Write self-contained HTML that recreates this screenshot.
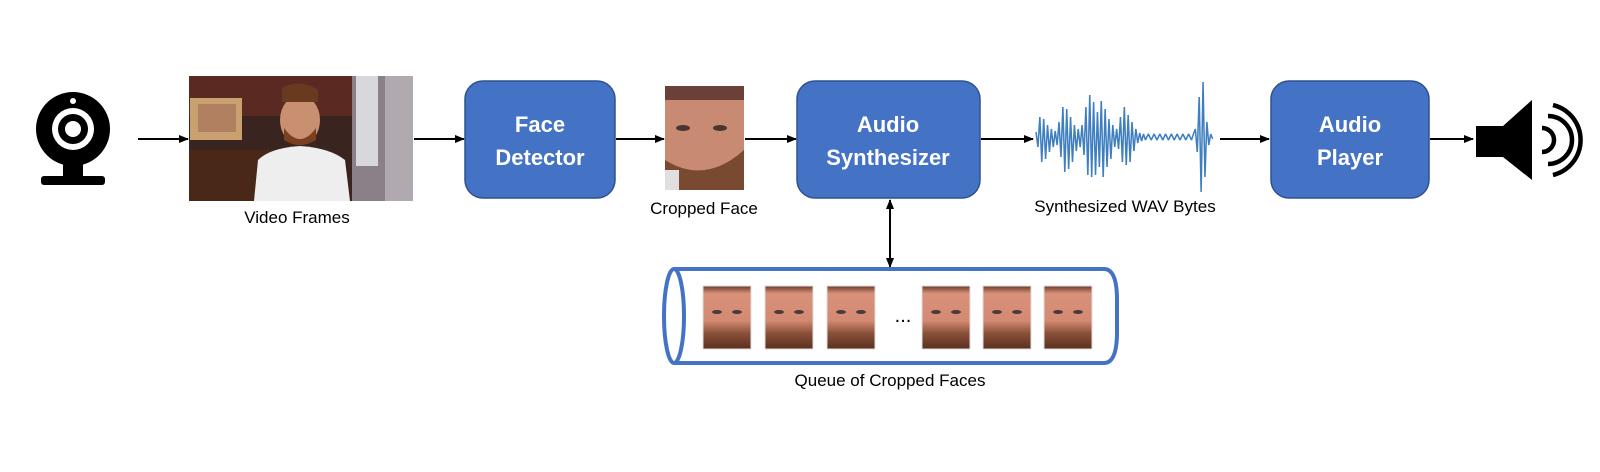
<!DOCTYPE html>
<html><head><meta charset="utf-8"><style>
html,body{margin:0;padding:0;background:#fff;}
svg{display:block;}
text{font-family:"Liberation Sans",Arial,sans-serif;}
</style></head><body>
<svg width="1600" height="472" viewBox="0 0 1600 472" xmlns="http://www.w3.org/2000/svg">
<defs>
<marker id="ah" markerWidth="10" markerHeight="10" refX="9" refY="5" orient="auto" markerUnits="userSpaceOnUse">
<path d="M0,1 L10,5 L0,9 Z" fill="#000"/></marker>
<marker id="ahs" markerWidth="10" markerHeight="10" refX="1" refY="5" orient="auto" markerUnits="userSpaceOnUse">
<path d="M10,1 L0,5 L10,9 Z" fill="#000"/></marker>
<linearGradient id="skin" x1="0" y1="0" x2="0" y2="1">
<stop offset="0" stop-color="#6b3a2a"/><stop offset="0.12" stop-color="#d9917a"/><stop offset="0.55" stop-color="#d48a72"/><stop offset="0.75" stop-color="#8a5038"/><stop offset="1" stop-color="#5a3020"/></linearGradient>
<g id="face">
<rect x="0" y="0" width="48" height="63" fill="url(#skin)"/>
<ellipse cx="14" cy="26" rx="5" ry="2" fill="#4a3a3a"/>
<ellipse cx="34" cy="26" rx="5" ry="2" fill="#4a3a3a"/>
<rect x="0" y="0" width="48" height="63" fill="none" stroke="#ddd" stroke-width="1"/>
</g>
</defs>

<!-- webcam -->
<circle cx="73" cy="129" r="37" fill="#000"/>
<circle cx="73" cy="129" r="21" fill="#fff"/>
<circle cx="73" cy="129" r="15" fill="#000"/>
<circle cx="73" cy="129" r="8" fill="#fff"/>
<circle cx="73" cy="101" r="3" fill="#fff"/>
<rect x="63" y="163" width="20" height="14" fill="#000"/>
<rect x="41" y="176" width="64" height="9" rx="3" fill="#000"/>

<line x1="138" y1="139" x2="188" y2="139" stroke="#000" stroke-width="2" marker-end="url(#ah)"/>

<!-- video frame -->
<rect x="189" y="76" width="224" height="125" fill="#3a2420"/>
<rect x="189" y="76" width="224" height="40" fill="#5a2a22"/>
<rect x="190" y="98" width="52" height="42" fill="#c9a070"/>
<rect x="198" y="104" width="38" height="28" fill="#b08060"/>
<rect x="189" y="150" width="100" height="51" fill="#4a2818"/>
<rect x="352" y="76" width="61" height="125" fill="#8a8088"/>
<rect x="356" y="76" width="22" height="90" fill="#d8d8dc"/>
<rect x="385" y="76" width="28" height="125" fill="#b0aab0"/>
<ellipse cx="300" cy="120" rx="20" ry="25" fill="#c89070"/>
<path d="M282,88 Q300,78 318,90 L318,102 L282,102 Z" fill="#6a3a20"/>
<path d="M284,128 Q300,150 316,128 L316,140 Q300,150 284,140 Z" fill="#7a4020"/>
<path d="M254,201 L258,160 Q270,148 300,146 Q330,148 345,160 L350,201 Z" fill="#eeeeee"/>
<text x="297" y="223" font-size="17" text-anchor="middle">Video Frames</text>

<line x1="414" y1="139" x2="464" y2="139" stroke="#000" stroke-width="2" marker-end="url(#ah)"/>

<!-- Face detector -->
<rect x="465" y="81" width="150" height="117" rx="18" fill="#4472C4" stroke="#2F528F" stroke-width="1.5"/>
<text x="540" y="132" font-size="22" font-weight="bold" fill="#fff" text-anchor="middle">Face</text>
<text x="540" y="165" font-size="22" font-weight="bold" fill="#fff" text-anchor="middle">Detector</text>

<line x1="616" y1="139" x2="664" y2="139" stroke="#000" stroke-width="2" marker-end="url(#ah)"/>

<!-- cropped face -->
<rect x="665" y="86" width="79" height="104" fill="#c88a72"/>
<rect x="665" y="86" width="79" height="14" fill="#6a4038"/>
<ellipse cx="683" cy="128" rx="7" ry="3" fill="#4a3535"/>
<ellipse cx="720" cy="128" rx="7" ry="3" fill="#4a3535"/>
<path d="M665,160 Q705,185 744,150 L744,190 L665,190 Z" fill="#7a4a30"/>
<rect x="665" y="170" width="14" height="20" fill="#e0dede"/>
<text x="704" y="214" font-size="17" text-anchor="middle">Cropped Face</text>

<line x1="745" y1="139" x2="796" y2="139" stroke="#000" stroke-width="2" marker-end="url(#ah)"/>

<!-- Audio synthesizer -->
<rect x="797" y="81" width="183" height="117" rx="18" fill="#4472C4" stroke="#2F528F" stroke-width="1.5"/>
<text x="888" y="132" font-size="22" font-weight="bold" fill="#fff" text-anchor="middle">Audio</text>
<text x="888" y="165" font-size="22" font-weight="bold" fill="#fff" text-anchor="middle">Synthesizer</text>

<line x1="981" y1="139" x2="1033" y2="139" stroke="#000" stroke-width="2" marker-end="url(#ah)"/>

<!-- waveform -->
<g transform="translate(1036,0) scale(0.96,1) translate(-1041,0)">
<polyline fill="none" stroke="#3f7fbf" stroke-width="1.6" stroke-linejoin="bevel" points="
1041,132 1043,147 1045,117 1047,162 1049,119 1051,159 1053,125 1055,152 1057,129 1059,147 1061,131 1063,145 1065,122 1067,157 1069,107 1071,172 1073,109 1075,169 1077,117 1079,162 1081,125 1083,151 1085,129 1087,147 1089,125 1091,155 1093,107 1095,175 1097,95 1099,177 1101,102 1103,175 1105,112 1107,167 1109,101 1111,177 1113,109 1115,167 1117,119 1119,159 1121,125 1123,147 1125,129 1127,149 1129,117 1131,162 1133,107 1135,165 1137,115 1139,162 1141,122 1143,151 1145,129 1147,143 1149,133 1151,141 1153,134 1155,140 1158,134 1161,140 1164,134 1167,140 1170,134 1173,140 1176,134 1179,140 1182,134 1185,140 1188,134 1191,140 1194,134 1197,140 1200,134 1203,140 1205,134 1207,129 1209,152 1211,97 1213,192 1215,82 1217,177 1219,122 1221,145 1223,134 1225,139"/>
</g>
<text x="1125" y="212" font-size="17" text-anchor="middle">Synthesized WAV Bytes</text>

<line x1="1220" y1="139" x2="1269" y2="139" stroke="#000" stroke-width="2" marker-end="url(#ah)"/>

<!-- Audio player -->
<rect x="1271" y="81" width="158" height="117" rx="18" fill="#4472C4" stroke="#2F528F" stroke-width="1.5"/>
<text x="1350" y="132" font-size="22" font-weight="bold" fill="#fff" text-anchor="middle">Audio</text>
<text x="1350" y="165" font-size="22" font-weight="bold" fill="#fff" text-anchor="middle">Player</text>

<line x1="1430" y1="139" x2="1473" y2="139" stroke="#000" stroke-width="2" marker-end="url(#ah)"/>

<!-- speaker -->
<path d="M1476,126 L1503,126 L1532,100 L1532,180 L1503,157 L1476,157 Z" fill="#000"/>
<path d="M1542,128 A12,12 0 0 1 1542,152" fill="none" stroke="#000" stroke-width="4.5"/>
<path d="M1548,116 A24,24 0 0 1 1548,164" fill="none" stroke="#000" stroke-width="4.5"/>
<path d="M1553,105 A36,36 0 0 1 1553,175" fill="none" stroke="#000" stroke-width="4.5"/>

<!-- double arrow -->
<line x1="890" y1="200" x2="890" y2="267" stroke="#000" stroke-width="2" marker-start="url(#ahs)" marker-end="url(#ah)"/>

<!-- cylinder -->
<path d="M674,269 L1104,269 Q1117,269 1117,300 L1117,332 Q1117,363 1104,363 L674,363" fill="none" stroke="#4472C4" stroke-width="4"/>
<ellipse cx="674" cy="316" rx="10" ry="47" fill="none" stroke="#4472C4" stroke-width="4"/>
<use href="#face" x="703" y="286"/>
<use href="#face" x="765" y="286"/>
<use href="#face" x="827" y="286"/>
<text x="903" y="322" font-size="20" text-anchor="middle">...</text>
<use href="#face" x="922" y="286"/>
<use href="#face" x="983" y="286"/>
<use href="#face" x="1044" y="286"/>
<text x="890" y="386" font-size="17" text-anchor="middle">Queue of Cropped Faces</text>
</svg>
</body></html>
